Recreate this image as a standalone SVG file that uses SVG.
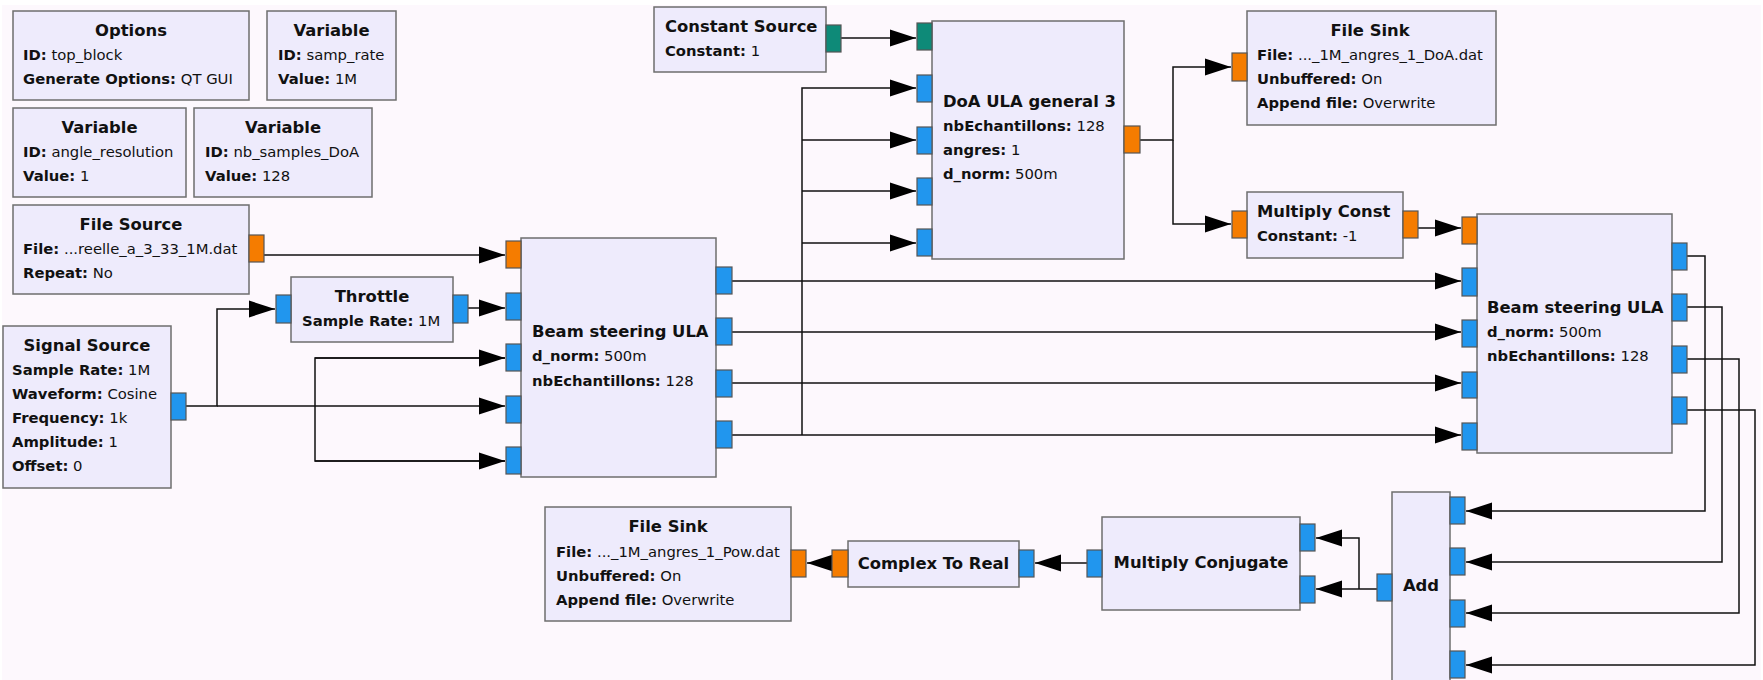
<svg xmlns="http://www.w3.org/2000/svg" width="1763" height="680" viewBox="0 0 1763 680">
  <style>
    .blk { fill: #eeebfc; stroke: #6e6e6e; stroke-width: 1.5; }
    .pb { fill: #2196ee; stroke: #555; stroke-width: 1.2; }
    .po { fill: #f57c00; stroke: #555; stroke-width: 1.2; }
    .pt { fill: #0e8a78; stroke: #555; stroke-width: 1.2; }
    text { font-family: "DejaVu Sans", "Liberation Sans", sans-serif; font-size: 14.8px; fill: #111; }
    .t { font-weight: bold; text-anchor: middle; font-size: 16.4px; }
    .h { font-weight: bold; font-size: 16.4px; }
    .k { font-weight: bold; }
    .w { stroke: #111; stroke-width: 1.5; fill: none; }
  </style>
  <defs>
    <marker id="ah" markerUnits="userSpaceOnUse" viewBox="-27 -9 28 18" refX="0" refY="0" markerWidth="28" markerHeight="18" orient="auto">
      <path d="M0,0 L-26,-8.5 L-26,8.5 Z" fill="#000"/>
    </marker>
  </defs>

  <!-- canvas -->
  <rect x="0" y="0" width="1763" height="680" fill="#ffffff"/>
  <rect x="2" y="5" width="1759" height="675" fill="#fdf8fd"/>

  <!-- connectors -->
  <g id="connectors" class="w" marker-end="url(#ah)">
    <path d="M264,255 H505"/>
    <path d="M468,308 H505"/>
    <path d="M186,406 H217 V309 H275"/>
    <path d="M217,406 H505"/>
    <path d="M505,358 H315 V461 H505" marker-end="none"/>
    <path d="M315,358 H505"/>
    <path d="M315,461 H505"/>
    <path d="M841,38 H916"/>
    <path d="M732,281 H1461"/>
    <path d="M732,332 H1461"/>
    <path d="M732,383 H1461"/>
    <path d="M732,435 H1461"/>
    <path d="M802,435 V88 H916"/>
    <path d="M802,140 H916"/>
    <path d="M802,191 H916"/>
    <path d="M802,243 H916"/>
    <path d="M1140,140 H1173 V67 H1231"/>
    <path d="M1173,140 V224 H1231"/>
    <path d="M1418,228 H1461"/>
    <path d="M1687,256 H1705 V511 H1466"/>
    <path d="M1687,307 H1722 V562 H1466"/>
    <path d="M1687,359 H1739 V613 H1466"/>
    <path d="M1687,410 H1755 V665 H1466"/>
    <path d="M1377,589 H1316"/>
    <path d="M1359,589 V538 H1316"/>
    <path d="M1087,563 H1035"/>
    <path d="M832,563 H807"/>
  </g>

  <g id="options">
    <rect class="blk" x="13" y="11" width="236" height="89"/>
    <text class="t" x="131" y="36">Options</text>
    <text x="23" y="60"><tspan class="k">ID:</tspan> top_block</text>
    <text x="23" y="84"><tspan class="k">Generate Options:</tspan> QT GUI</text>
  </g>

  <g id="var_samp_rate">
    <rect class="blk" x="267" y="11" width="129" height="89"/>
    <text class="t" x="331.5" y="36">Variable</text>
    <text x="278" y="60"><tspan class="k">ID:</tspan> samp_rate</text>
    <text x="278" y="84"><tspan class="k">Value:</tspan> 1M</text>
  </g>

  <g id="var_angle_resolution">
    <rect class="blk" x="13" y="108" width="173" height="89"/>
    <text class="t" x="99.5" y="133">Variable</text>
    <text x="23" y="157"><tspan class="k">ID:</tspan> angle_resolution</text>
    <text x="23" y="181"><tspan class="k">Value:</tspan> 1</text>
  </g>

  <g id="var_nb_samples_doa">
    <rect class="blk" x="194" y="108" width="178" height="89"/>
    <text class="t" x="283" y="133">Variable</text>
    <text x="205" y="157"><tspan class="k">ID:</tspan> nb_samples_DoA</text>
    <text x="205" y="181"><tspan class="k">Value:</tspan> 128</text>
  </g>

  <g id="file_source">
    <rect class="blk" x="13" y="205" width="236" height="89"/>
    <rect class="po" x="249" y="235" width="15" height="27"/>
    <text class="t" x="131" y="230">File Source</text>
    <text x="23" y="254"><tspan class="k">File:</tspan> ...reelle_a_3_33_1M.dat</text>
    <text x="23" y="278"><tspan class="k">Repeat:</tspan> No</text>
  </g>

  <g id="signal_source">
    <rect class="blk" x="3" y="326" width="168" height="162"/>
    <rect class="pb" x="171" y="393" width="15" height="27"/>
    <text class="t" x="87" y="351">Signal Source</text>
    <text x="12" y="375"><tspan class="k">Sample Rate:</tspan> 1M</text>
    <text x="12" y="399"><tspan class="k">Waveform:</tspan> Cosine</text>
    <text x="12" y="423"><tspan class="k">Frequency:</tspan> 1k</text>
    <text x="12" y="447"><tspan class="k">Amplitude:</tspan> 1</text>
    <text x="12" y="471"><tspan class="k">Offset:</tspan> 0</text>
  </g>

  <g id="throttle">
    <rect class="blk" x="291" y="277" width="162" height="65"/>
    <rect class="pb" x="276" y="295" width="15" height="28"/>
    <rect class="pb" x="453" y="295" width="15" height="28"/>
    <text class="t" x="372" y="302">Throttle</text>
    <text x="302" y="326"><tspan class="k">Sample Rate:</tspan> 1M</text>
  </g>

  <g id="beam_steering_1">
    <rect class="blk" x="521" y="238" width="195" height="239"/>
    <rect class="po" x="506" y="241" width="15" height="27"/>
    <rect class="pb" x="506" y="293" width="15" height="27"/>
    <rect class="pb" x="506" y="344" width="15" height="27"/>
    <rect class="pb" x="506" y="396" width="15" height="27"/>
    <rect class="pb" x="506" y="447" width="15" height="27"/>
    <rect class="pb" x="716" y="267" width="16" height="27"/>
    <rect class="pb" x="716" y="318" width="16" height="27"/>
    <rect class="pb" x="716" y="370" width="16" height="27"/>
    <rect class="pb" x="716" y="421" width="16" height="27"/>
    <text class="h" x="532" y="337">Beam steering ULA</text>
    <text x="532" y="361"><tspan class="k">d_norm:</tspan> 500m</text>
    <text x="532" y="386"><tspan class="k">nbEchantillons:</tspan> 128</text>
  </g>

  <g id="constant_source">
    <rect class="blk" x="654" y="7" width="172" height="65"/>
    <rect class="pt" x="826" y="25" width="15" height="27"/>
    <text class="h" x="665" y="32">Constant Source</text>
    <text x="665" y="56"><tspan class="k">Constant:</tspan> 1</text>
  </g>

  <g id="doa_ula">
    <rect class="blk" x="932" y="21" width="192" height="238"/>
    <rect class="pt" x="917" y="23" width="15" height="27"/>
    <rect class="pb" x="917" y="75" width="15" height="27"/>
    <rect class="pb" x="917" y="127" width="15" height="27"/>
    <rect class="pb" x="917" y="178" width="15" height="27"/>
    <rect class="pb" x="917" y="229" width="15" height="27"/>
    <rect class="po" x="1124" y="126" width="16" height="27"/>
    <text class="h" x="943" y="107">DoA ULA general 3</text>
    <text x="943" y="131"><tspan class="k">nbEchantillons:</tspan> 128</text>
    <text x="943" y="155"><tspan class="k">angres:</tspan> 1</text>
    <text x="943" y="179"><tspan class="k">d_norm:</tspan> 500m</text>
  </g>

  <g id="file_sink_doa">
    <rect class="blk" x="1247" y="11" width="249" height="114"/>
    <rect class="po" x="1232" y="53" width="15" height="28"/>
    <text class="t" x="1370" y="36">File Sink</text>
    <text x="1257" y="60"><tspan class="k">File:</tspan> ..._1M_angres_1_DoA.dat</text>
    <text x="1257" y="84"><tspan class="k">Unbuffered:</tspan> On</text>
    <text x="1257" y="108"><tspan class="k">Append file:</tspan> Overwrite</text>
  </g>

  <g id="multiply_const">
    <rect class="blk" x="1247" y="192" width="156" height="66"/>
    <rect class="po" x="1232" y="211" width="15" height="27"/>
    <rect class="po" x="1403" y="211" width="15" height="27"/>
    <text class="h" x="1257" y="217">Multiply Const</text>
    <text x="1257" y="241"><tspan class="k">Constant:</tspan> -1</text>
  </g>

  <g id="beam_steering_2">
    <rect class="blk" x="1477" y="214" width="195" height="239"/>
    <rect class="po" x="1462" y="217" width="15" height="27"/>
    <rect class="pb" x="1462" y="268" width="15" height="28"/>
    <rect class="pb" x="1462" y="320" width="15" height="27"/>
    <rect class="pb" x="1462" y="372" width="15" height="26"/>
    <rect class="pb" x="1462" y="423" width="15" height="27"/>
    <rect class="pb" x="1672" y="243" width="15" height="27"/>
    <rect class="pb" x="1672" y="294" width="15" height="27"/>
    <rect class="pb" x="1672" y="346" width="15" height="27"/>
    <rect class="pb" x="1672" y="397" width="15" height="27"/>
    <text class="h" x="1487" y="313">Beam steering ULA</text>
    <text x="1487" y="337"><tspan class="k">d_norm:</tspan> 500m</text>
    <text x="1487" y="361"><tspan class="k">nbEchantillons:</tspan> 128</text>
  </g>

  <g id="add">
    <rect class="blk" x="1392" y="492" width="58" height="200"/>
    <rect class="pb" x="1377" y="574" width="15" height="27"/>
    <rect class="pb" x="1450" y="497" width="15" height="27"/>
    <rect class="pb" x="1450" y="548" width="15" height="27"/>
    <rect class="pb" x="1450" y="600" width="15" height="27"/>
    <rect class="pb" x="1450" y="651" width="15" height="27"/>
    <text class="t" x="1421" y="591">Add</text>
  </g>

  <g id="multiply_conjugate">
    <rect class="blk" x="1102" y="517" width="198" height="93"/>
    <rect class="pb" x="1087" y="550" width="15" height="27"/>
    <rect class="pb" x="1300" y="524" width="15" height="27"/>
    <rect class="pb" x="1300" y="576" width="15" height="27"/>
    <text class="t" x="1201" y="568">Multiply Conjugate</text>
  </g>

  <g id="complex_to_real">
    <rect class="blk" x="848" y="541" width="171" height="46"/>
    <rect class="po" x="832" y="550" width="16" height="27"/>
    <rect class="pb" x="1019" y="550" width="15" height="27"/>
    <text class="t" x="933.5" y="569">Complex To Real</text>
  </g>

  <g id="file_sink_pow">
    <rect class="blk" x="545" y="507" width="246" height="114"/>
    <rect class="po" x="791" y="550" width="15" height="27"/>
    <text class="t" x="668" y="532">File Sink</text>
    <text x="556" y="557"><tspan class="k">File:</tspan> ..._1M_angres_1_Pow.dat</text>
    <text x="556" y="581"><tspan class="k">Unbuffered:</tspan> On</text>
    <text x="556" y="605"><tspan class="k">Append file:</tspan> Overwrite</text>
  </g>
</svg>
